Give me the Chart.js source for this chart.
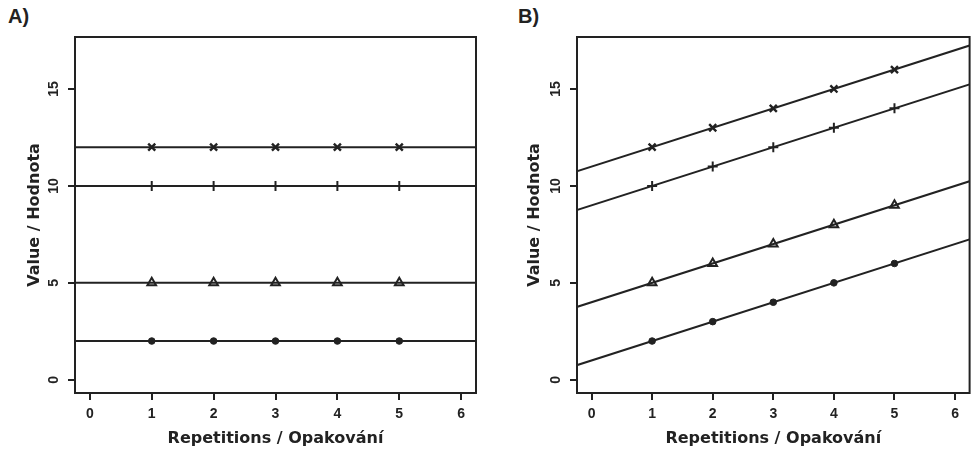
<!DOCTYPE html>
<html>
<head>
<meta charset="utf-8">
<script src="https://cdn.jsdelivr.net/npm/chart.js@4/dist/chart.umd.min.js"></script>
<style>
  body { margin: 0; background: #fff; }
  #wrap { position: relative; width: 977px; height: 457px; }
  .panel { position: absolute; top: 0; height: 457px; }
  .tag { position: absolute; top: 5px; font: bold 20px "Liberation Sans", Arial, sans-serif; color: #222; }
</style>
</head>
<body>
<div id="wrap">
  <div class="tag" style="left:8px">A)</div>
  <div class="tag" style="left:518px">B)</div>
  <div class="panel" style="left:0;width:488px"><canvas id="chartA" width="488" height="457"></canvas></div>
  <div class="panel" style="left:488px;width:489px"><canvas id="chartB" width="489" height="457"></canvas></div>
</div>
<script>
// repetitions on x
var reps = [1, 2, 3, 4, 5];

// panel A - constant values
var circleA = [2, 2, 2, 2, 2];
var triangleA = [5, 5, 5, 5, 5];
var plusA = [10, 10, 10, 10, 10];
var crossA = [12, 12, 12, 12, 12];
var interceptA = [2, 5, 10, 12];
var slopeA = 0;

// panel B - values growing with repetitions
var circleB = [2, 3, 4, 5, 6];
var triangleB = [5, 6, 7, 8, 9];
var plusB = [10, 11, 12, 13, 14];
var crossB = [12, 13, 14, 15, 16];
var interceptB = [1, 4, 9, 11];
var slopeB = 1;

var xTicks = [0, 1, 2, 3, 4, 5, 6];
var yTicks = [0, 5, 10, 15];
var xMin = -0.24, xMax = 6.24;
var yMin = -0.68, yMax = 17.68;

var ink = '#222';

function pts(ys) {
    return reps.map(function (x, i) { return {x: x, y: ys[i]}; });
}

// box round the plot area, like R's box()
var boxPlugin = {
    id: 'box',
    afterDraw: function (chart) {
        var a = chart.chartArea, ctx = chart.ctx;
        ctx.save();
        ctx.strokeStyle = ink;
        ctx.lineWidth = 2;
        ctx.strokeRect(a.left, a.top, a.right - a.left, a.bottom - a.top);
        ctx.restore();
    }
};

function makeChart(id, series, intercepts, slope, yAxisW, yTitlePad, rightPad) {
    var datasets = [];
    // fitted lines, drawn past the edges and clipped to the plot area
    intercepts.forEach(function (b) {
        datasets.push({
            data: [{x: xMin - 1, y: b + slope * (xMin - 1)}, {x: xMax + 1, y: b + slope * (xMax + 1)}],
            showLine: true,
            borderColor: ink,
            borderWidth: 2,
            pointRadius: 0
        });
    });
    var styles = [
        {style: 'circle', r: 3.3, bg: ink, bw: 1},
        {style: 'triangle', r: 5, bg: '#fff', bw: 2},
        {style: 'cross', r: 5, bg: ink, bw: 2},
        {style: 'crossRot', r: 5, bg: ink, bw: 2.4}
    ];
    series.forEach(function (ys, i) {
        datasets.push({
            data: pts(ys),
            pointStyle: styles[i].style,
            pointRadius: styles[i].r,
            pointBackgroundColor: styles[i].bg,
            pointBorderColor: ink,
            pointBorderWidth: styles[i].bw
        });
    });

    return new Chart(document.getElementById(id), {
        type: 'scatter',
        data: {datasets: datasets},
        options: {
            responsive: false,
            animation: false,
            layout: {padding: {left: 0, top: 37, right: rightPad, bottom: 0}},
            plugins: {legend: {display: false}, tooltip: {enabled: false}},
            scales: {
                x: {
                    min: xMin, max: xMax,
                    afterFit: function (s) { s.height = 64; },
                    afterBuildTicks: function (s) { s.ticks = xTicks.map(function (v) { return {value: v}; }); },
                    border: {display: false},
                    grid: {drawOnChartArea: false, drawTicks: true, tickLength: 7, color: ink, lineWidth: 2},
                    ticks: {color: ink, padding: 6, font: {family: 'Liberation Sans', size: 14, weight: 'bold'}},
                    title: {
                        display: true, text: 'Repetitions / Opakování', color: ink,
                        font: {family: 'DejaVu Sans', size: 16, weight: 'bold'},
                        padding: {top: 0, bottom: 9}
                    }
                },
                y: {
                    min: yMin, max: yMax,
                    afterFit: function (s) { s.width = yAxisW; },
                    afterBuildTicks: function (s) { s.ticks = yTicks.map(function (v) { return {value: v}; }); },
                    border: {display: false},
                    grid: {drawOnChartArea: false, drawTicks: true, tickLength: 7, color: ink, lineWidth: 2},
                    ticks: {color: ink, padding: 6, minRotation: 90, maxRotation: 90, crossAlign: 'center',
                            font: {family: 'Liberation Sans', size: 14, weight: 'bold'}},
                    title: {
                        display: true, text: 'Value / Hodnota', color: ink,
                        font: {family: 'DejaVu Sans', size: 16, weight: 'bold'},
                        padding: {top: yTitlePad - 1, bottom: 0}
                    }
                }
            }
        },
        plugins: [boxPlugin]
    });
}

makeChart('chartA', [circleA, triangleA, plusA, crossA], interceptA, slopeA, 75, 26, 12);
makeChart('chartB', [circleB, triangleB, plusB, crossB], interceptB, slopeB, 89, 38, 1);
</script>
</body>
</html>
